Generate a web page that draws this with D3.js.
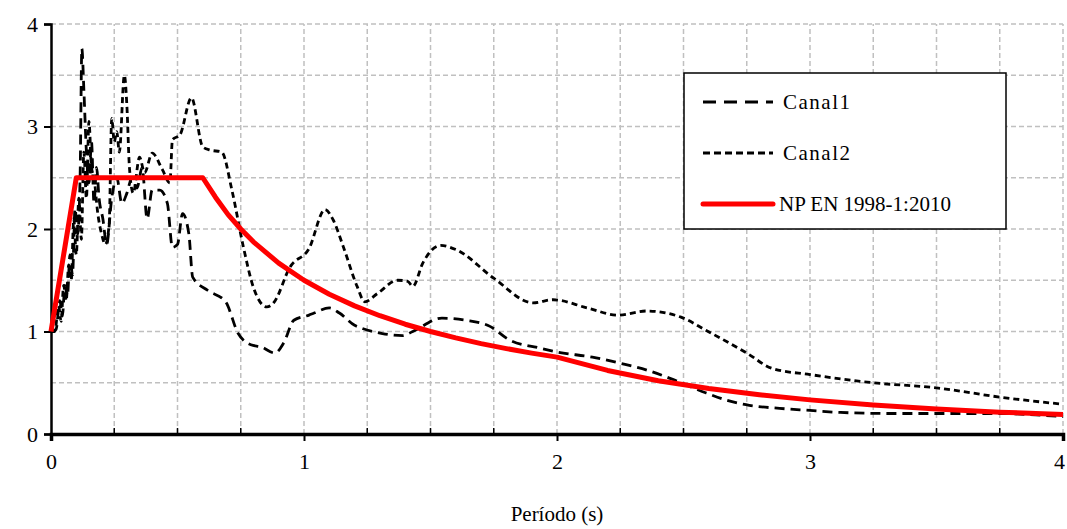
<!DOCTYPE html>
<html>
<head>
<meta charset="utf-8">
<script src="https://d3js.org/d3.v7.min.js"></script>
<style>
  body { margin: 0; background: #fff; }
  svg text { font-family: "Liberation Serif", "DejaVu Serif", "Times New Roman", serif !important; fill: #000; }
</style>
</head>
<body>
<div id="chart"></div>
<script>
  // values
  var xTicks = [0, 1, 2, 3, 4];
  var yTicks = [0, 1, 2, 3, 4];

  var canal1T = [0, 0.02, 0.035, 0.045, 0.055, 0.065, 0.075, 0.085, 0.095, 0.105, 0.115, 0.122, 0.13, 0.14, 0.15, 0.16, 0.17, 0.18, 0.19, 0.205, 0.22, 0.24, 0.26, 0.28, 0.3, 0.32, 0.34, 0.36, 0.38, 0.4, 0.43, 0.46, 0.48, 0.5, 0.52, 0.545, 0.56, 0.62, 0.69, 0.74, 0.79, 0.83, 0.885, 0.92, 0.96, 1.02, 1.04, 1.1, 1.14, 1.2, 1.23, 1.31, 1.39, 1.43, 1.545, 1.64, 1.735, 1.81, 1.93, 2.0, 2.14, 2.25, 2.36, 2.46, 2.59, 2.67, 2.76, 2.88, 3.0, 3.12, 3.33, 3.53, 3.72, 4.0];
  var canal1V = [1.0, 1.02, 1.3, 1.15, 1.45, 1.35, 1.75, 1.55, 2.2, 1.95, 2.5, 3.76, 3.35, 2.75, 2.45, 2.85, 2.25, 2.6, 2.3, 2.1, 1.85, 2.3, 2.5, 2.25, 2.35, 2.5, 2.4, 2.6, 2.1, 2.38, 2.38, 2.25, 1.82, 1.85, 2.15, 1.95, 1.53, 1.4, 1.29, 0.98, 0.87, 0.85, 0.79, 0.89, 1.11, 1.16, 1.18, 1.23, 1.18, 1.06, 1.03, 0.98, 0.96, 1.0, 1.13, 1.11, 1.05, 0.92, 0.84, 0.8, 0.75, 0.69, 0.62, 0.53, 0.4, 0.33, 0.28, 0.25, 0.23, 0.21, 0.2, 0.2, 0.2, 0.17];

  var canal2T = [0, 0.015, 0.03, 0.04, 0.05, 0.06, 0.07, 0.08, 0.09, 0.1, 0.11, 0.12, 0.13, 0.14, 0.15, 0.16, 0.17, 0.185, 0.2, 0.215, 0.23, 0.24, 0.25, 0.26, 0.27, 0.29, 0.3, 0.31, 0.325, 0.35, 0.37, 0.4, 0.44, 0.47, 0.48, 0.51, 0.555, 0.6, 0.63, 0.675, 0.715, 0.76, 0.8, 0.853, 0.88, 0.945, 1.02, 1.083, 1.115, 1.155, 1.21, 1.24, 1.29, 1.37, 1.41, 1.43, 1.47, 1.54, 1.6, 1.75, 1.905, 1.985, 2.12, 2.24, 2.355, 2.49, 2.59, 2.75, 2.85, 3.0, 3.25, 3.5, 3.75, 4.0];
  var canal2V = [1.0, 1.0, 1.25, 1.1, 1.45, 1.3, 1.65, 1.5, 2.1, 1.75, 2.3, 1.9, 2.75, 2.3, 3.05, 2.6, 2.5, 2.15, 1.95, 1.85, 2.05, 3.08, 2.85, 2.95, 2.75, 3.5, 3.2, 2.6, 2.35, 2.7, 2.55, 2.74, 2.58, 2.45, 2.87, 2.92, 3.28, 2.8, 2.77, 2.75, 2.38, 1.83, 1.43, 1.24, 1.28, 1.63, 1.81, 2.19, 2.09, 1.83, 1.44, 1.29, 1.37, 1.5, 1.49, 1.44, 1.67, 1.84, 1.8, 1.52, 1.28, 1.31, 1.23, 1.16, 1.2, 1.14, 1.01, 0.79, 0.64, 0.58, 0.5, 0.45, 0.36, 0.29];

  var normT = [0, 0.1, 0.6, 0.65, 0.7, 0.75, 0.8, 0.9, 1.0, 1.1, 1.2, 1.3, 1.4, 1.5, 1.6, 1.7, 1.8, 1.9, 2.0, 2.2, 2.4, 2.6, 2.8, 3.0, 3.25, 3.5, 3.75, 4.0];
  var normV = [1.0, 2.5, 2.5, 2.31, 2.14, 2.0, 1.875, 1.667, 1.5, 1.364, 1.25, 1.154, 1.071, 1.0, 0.938, 0.882, 0.833, 0.789, 0.75, 0.62, 0.52, 0.444, 0.383, 0.333, 0.284, 0.245, 0.213, 0.19];

  var seriesNames = ["Canal1", "Canal2", "NP EN 1998-1:2010"];

  var width = 1067, height = 529;
  var margin = {left: 51, right: 4, top: 24, bottom: 95};
  var serif = "'Liberation Serif', 'DejaVu Serif', serif";

  var svg = d3.select("#chart").append("svg")
      .attr("width", width)
      .attr("height", height);

  var x = d3.scaleLinear().domain([0, 4]).range([margin.left, width - margin.right]);
  var y = d3.scaleLinear().domain([0, 4]).range([height - margin.bottom, margin.top]);

  // grid
  var grid = svg.append("g");
  grid.selectAll(".vg")
      .data(d3.range(1, 17).map(function(i) { return i * 0.25; }))
      .enter().append("line")
      .attr("x1", function(d) { return x(d); })
      .attr("x2", function(d) { return x(d); })
      .attr("y1", y(0))
      .attr("y2", y(4));
  grid.selectAll(".hg")
      .data(d3.range(1, 9).map(function(i) { return i * 0.5; }))
      .enter().append("line")
      .attr("x1", x(0))
      .attr("x2", x(4))
      .attr("y1", function(d) { return y(d); })
      .attr("y2", function(d) { return y(d); });
  grid.selectAll("line")
      .attr("stroke", "#c0c0c0")
      .attr("stroke-width", 1.5)
      .attr("stroke-dasharray", "5,3");

  // axes
  var xAxis = svg.append("g")
      .attr("transform", "translate(0," + y(0) + ")")
      .attr("font-family", serif)
      .call(d3.axisBottom(x).tickValues(xTicks).tickSize(7).tickFormat(d3.format("d")));
  xAxis.attr("font-family", serif);
  xAxis.select(".domain").attr("stroke-width", 3.5);
  xAxis.selectAll(".tick line").attr("stroke-width", 2);
  xAxis.selectAll("text").attr("font-size", 22).attr("dy", "1.15em")
      .attr("dx", function(d) { return d === 4 ? -4 : 0; });

  // minor ticks on x axis (inside)
  svg.append("g").selectAll("line")
      .data(d3.range(1, 16).filter(function(i) { return i % 4 !== 0; }).map(function(i) { return i * 0.25; }))
      .enter().append("line")
      .attr("x1", function(d) { return x(d); })
      .attr("x2", function(d) { return x(d); })
      .attr("y1", y(0))
      .attr("y2", y(0) - 6)
      .attr("stroke", "#000")
      .attr("stroke-width", 1.5);

  var yAxis = svg.append("g")
      .attr("transform", "translate(" + x(0) + ",0)")
      .call(d3.axisLeft(y).tickValues(yTicks).tickSize(7).tickFormat(d3.format("d")));
  yAxis.attr("font-family", serif);
  yAxis.select(".domain").attr("stroke-width", 2.5);
  yAxis.selectAll(".tick line").attr("stroke-width", 2);
  yAxis.selectAll("text").attr("font-size", 22).attr("x", -13);

  svg.append("text")
      .attr("x", 557)
      .attr("y", 521)
      .attr("text-anchor", "middle")
      .attr("font-family", serif)
      .attr("font-size", 21)
      .text("Período (s)");

  // lines
  function pts(ts, vs) { return ts.map(function(t, i) { return [t, vs[i]]; }); }

  var smooth = d3.line()
      .x(function(d) { return x(d[0]); })
      .y(function(d) { return y(d[1]); })
      .curve(d3.curveMonotoneX);
  var straight = d3.line()
      .x(function(d) { return x(d[0]); })
      .y(function(d) { return y(d[1]); });

  svg.append("path")
      .attr("d", smooth(pts(canal1T, canal1V)))
      .attr("fill", "none")
      .attr("stroke", "#000")
      .attr("stroke-width", 2.8)
      .attr("stroke-dasharray", "10,6");

  svg.append("path")
      .attr("d", smooth(pts(canal2T, canal2V)))
      .attr("fill", "none")
      .attr("stroke", "#000")
      .attr("stroke-width", 2.8)
      .attr("stroke-dasharray", "6,4");

  svg.append("path")
      .attr("d", straight(pts(normT, normV)))
      .attr("fill", "none")
      .attr("stroke", "#ff0000")
      .attr("stroke-width", 5)
      .attr("stroke-linejoin", "round");

  // legend
  var legend = svg.append("g").attr("transform", "translate(684,73)");
  legend.append("rect")
      .attr("width", 322)
      .attr("height", 156)
      .attr("fill", "#fff")
      .attr("stroke", "#000")
      .attr("stroke-width", 1.5);

  var legendStyle = [
      {dash: "13,8", color: "#000", w: 2.8, cap: "butt"},
      {dash: "7,4", color: "#000", w: 2.8, cap: "butt"},
      {dash: null, color: "#ff0000", w: 5, cap: "round"}
  ];
  var rows = legend.selectAll(".row")
      .data(seriesNames)
      .enter().append("g")
      .attr("transform", function(d, i) { return "translate(0," + (29 + i * 51) + ")"; });
  rows.append("line")
      .attr("x1", 19)
      .attr("x2", 89)
      .attr("stroke", function(d, i) { return legendStyle[i].color; })
      .attr("stroke-width", function(d, i) { return legendStyle[i].w; })
      .attr("stroke-linecap", function(d, i) { return legendStyle[i].cap; })
      .attr("stroke-dasharray", function(d, i) { return legendStyle[i].dash; });
  rows.append("text")
      .attr("x", function(d, i) { return i < 2 ? 99 : 95; })
      .attr("y", 7)
      .attr("font-family", serif)
      .attr("font-size", 21)
      .attr("letter-spacing", function(d, i) { return i < 2 ? 1.5 : 0; })
      .text(function(d) { return d; });
</script>
</body>
</html>
